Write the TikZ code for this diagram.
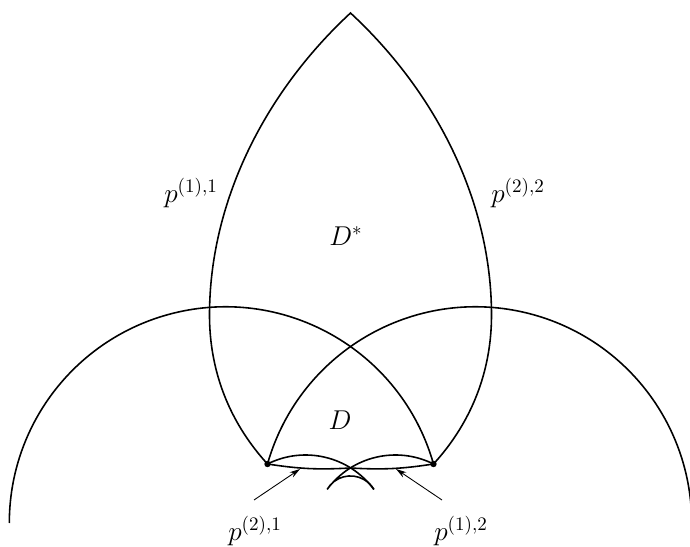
\RequirePackage{fix-cm}
\documentclass[tikz,border=0pt]{standalone}
\usepackage{amsmath,amssymb}
\usepackage{tikz}
\usetikzlibrary{arrows.meta}
\tikzset{trait/.style={line width=0.9pt},
  fleche/.style={line width=0.5pt,-{Stealth[length=6pt,width=3.5pt]}},
  etiq/.style={font=\fontsize{15.5}{18}\selectfont}}

\begin{document}
\begin{tikzpicture}[x=0.02cm,y=0.02cm,>=Stealth]
  \useasboundingbox (0,0) rectangle (690,547);
  % points
  \coordinate (top) at (350.5,534);
  \coordinate (nl) at (267.5,83);
  \coordinate (nr) at (433.5,83);
  \coordinate (cx) at (350.5,79);
  \coordinate (ml) at (209.5,232);
  \coordinate (mr) at (491.5,232);
  % grands cercles
  \draw[trait] (nr) arc[start angle=15.84,end angle=180,radius=216.2];
  \draw[trait] (nl) arc[start angle=164.16,end angle=0,radius=216.2];
  % bord de D*
  \draw[trait] (nl) .. controls (240,113) and (209.5,162) .. (ml)
    .. controls (209.5,342) and (262,452) .. (top)
    .. controls (439,452) and (491.5,342) .. (mr)
    .. controls (491.5,162) and (461,113) .. (nr);
  % petits arcs
  \draw[trait] (nl) arc[start angle=116.6,end angle=36.5,radius=85];
  \draw[trait] (nr) arc[start angle=63.4,end angle=143.5,radius=85]
    arc[start angle=150,end angle=30,radius=27];
  \draw[trait] (nl) to[bend right=6] (cx) to[bend right=6] (nr);
  \fill (nl) circle[radius=3.2];
  \fill (nr) circle[radius=3.2];
  % étiquettes
  \node[etiq] (p11) at (191,354) {$p^{(1),1}$};
  \node[etiq] (p22) at (518,354) {$p^{(2),2}$};
  \node[etiq] (Ds) at (346,311) {$D^*$};
  \node[etiq] (D) at (340,127) {$D$};
  \node[etiq] (p21) at (255,16) {$p^{(2),1}$};
  \node[etiq] (p12) at (461,16) {$p^{(1),2}$};
  % flèches
  \coordinate (q21) at (254,47);
  \coordinate (t21) at (300,78);
  \coordinate (q12) at (442,47);
  \coordinate (t12) at (396,78);
  \draw[fleche] (q21) -- (t21);
  \draw[fleche] (q12) -- (t12);
\end{tikzpicture}
\end{document}
